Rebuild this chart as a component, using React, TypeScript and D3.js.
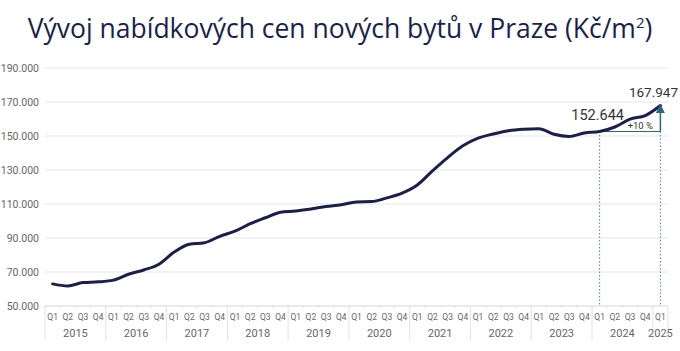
import React from "react";
import * as d3 from "d3";

const years = [2015, 2016, 2017, 2018, 2019, 2020, 2021, 2022, 2023, 2024, 2025];
const quarterNames = ["Q1", "Q2", "Q3", "Q4"];
const prices = [
  63000, 61800, 63800, 64200, 65200, 68700, 71200, 74600,
  81700, 86300, 87200, 91000, 94000, 98400, 101900, 105200,
  105900, 107100, 108500, 109600, 111200, 111400, 113600, 116400,
  121200, 129500, 137300, 144200, 148700, 151200, 153100, 154000,
  154300, 151000, 149700, 151800, 152644, 155300, 159900, 162000,
  167947,
];
const yTicks = [50000, 70000, 90000, 110000, 130000, 150000, 170000, 190000];
const titleText = "Vývoj nabídkových cen nových bytů v Praze (Kč/m";
const startLabel = "152.644";
const endLabel = "167.947";
const changeLabel = "+10 %";

const W = 680;
const H = 351;
const navy = "#1b1f4b";
const titleFont = "'Open Sans', sans-serif";
const font = "Roboto, sans-serif";

export default function App() {
  const keys = prices.map((_, i) => `${years[Math.floor(i / 4)]}-${quarterNames[i % 4]}`);
  const x = d3.scaleBand<string>().domain(keys).range([45, 668]).padding(0);
  const y = d3.scaleLinear().domain([50000, 190000]).range([306, 68]);
  const cx = (i: number) => (x(keys[i]) as number) + x.bandwidth() / 2;
  const line = d3
    .line<number>()
    .x((_, i) => cx(i))
    .y((d) => y(d))
    .curve(d3.curveMonotoneX);
  const fmt = (v: number) => d3.format(",")(v).replace(/,/g, ".");
  const i0 = prices.length - 5;
  const i1 = prices.length - 1;

  return (
    <svg width={W} height={H} style={{ position: "absolute", left: 0, top: 0 }}>
      <defs>
        <marker id="arr" viewBox="0 0 10 10" refX="5" refY="5" markerWidth="6" markerHeight="6" orient="auto-start-reverse">
          <path d="M0,0 L10,5 L0,10 z" fill="#2b6686" />
        </marker>
      </defs>
      <rect width={W} height={H} fill="#fff" />
      <text x={W / 2} y={38} textAnchor="middle" fontFamily={titleFont} fontSize={26.5} fill={navy}>
        {titleText}
        <tspan fontSize={15} dy={-10}>2</tspan>
        <tspan dy={10}>)</tspan>
      </text>
      {yTicks.map((t) => (
        <g key={t}>
          <line x1={45} x2={668} y1={y(t)} y2={y(t)} stroke="#e6e6e6" strokeWidth={1} />
          <text x={39} y={y(t) + 4} textAnchor="end" fontFamily={font} fontSize={10.5} fill="#666">
            {fmt(t)}
          </text>
        </g>
      ))}
      {keys.map((k, i) => (
        <g key={k}>
          <line x1={x(k) as number} x2={x(k) as number} y1={306} y2={308} stroke="#ddd" />
          <text x={cx(i)} y={320} textAnchor="middle" fontFamily={font} fontSize={8.5} fill="#666">
            {quarterNames[i % 4]}
          </text>
        </g>
      ))}
      {years.map((yr, j) => {
        const first = j * 4;
        const last = Math.min(first + 3, keys.length - 1);
        const x0 = x(keys[first]) as number;
        const x1 = (x(keys[last]) as number) + x.bandwidth();
        return (
          <g key={yr}>
            <line x1={x0} x2={x0} y1={306} y2={340} stroke="#e3e3e3" />
            {j === years.length - 1 && <line x1={x1} x2={x1} y1={306} y2={340} stroke="#e3e3e3" />}
            <text x={(x0 + x1) / 2} y={337} textAnchor="middle" fontFamily={font} fontSize={11} fill="#666">
              {yr}
            </text>
          </g>
        );
      })}
      <line x1={45} x2={668} y1={306} y2={306} stroke="#e3e3e3" />
      <line x1={cx(i0)} x2={cx(i0)} y1={y(prices[i0])} y2={306} stroke="#4f86b0" strokeDasharray="1.5,2" strokeWidth={1} />
      <line x1={cx(i1)} x2={cx(i1)} y1={y(prices[i0])} y2={306} stroke="#4f86b0" strokeDasharray="1.5,2" strokeWidth={1} />
      <line x1={cx(i0)} x2={cx(i1)} y1={y(prices[i0])} y2={y(prices[i0])} stroke="#2b6686" strokeWidth={1.2} />
      <path d={line(prices) as string} fill="none" stroke={navy} strokeWidth={3} strokeLinejoin="round" strokeLinecap="round" />
      <line x1={cx(i1)} x2={cx(i1)} y1={y(prices[i0])} y2={y(prices[i1]) + 3} stroke="#2b6686" strokeWidth={1.5} markerEnd="url(#arr)" />
      <text x={cx(i0) + (cx(i1) - cx(i0)) * 0.67} y={y(prices[i0]) - 3} textAnchor="middle" fontFamily={font} fontSize={9.5} fill="#333">
        {changeLabel}
      </text>
      <text x={cx(i0) - 2} y={y(prices[i0]) - 12} textAnchor="middle" fontFamily={font} fontSize={14.5} fill="#333">
        {startLabel}
      </text>
      <text x={W - 2} y={97} textAnchor="end" fontFamily={font} fontSize={13.5} fill="#333">
        {endLabel}
      </text>
    </svg>
  );
}
